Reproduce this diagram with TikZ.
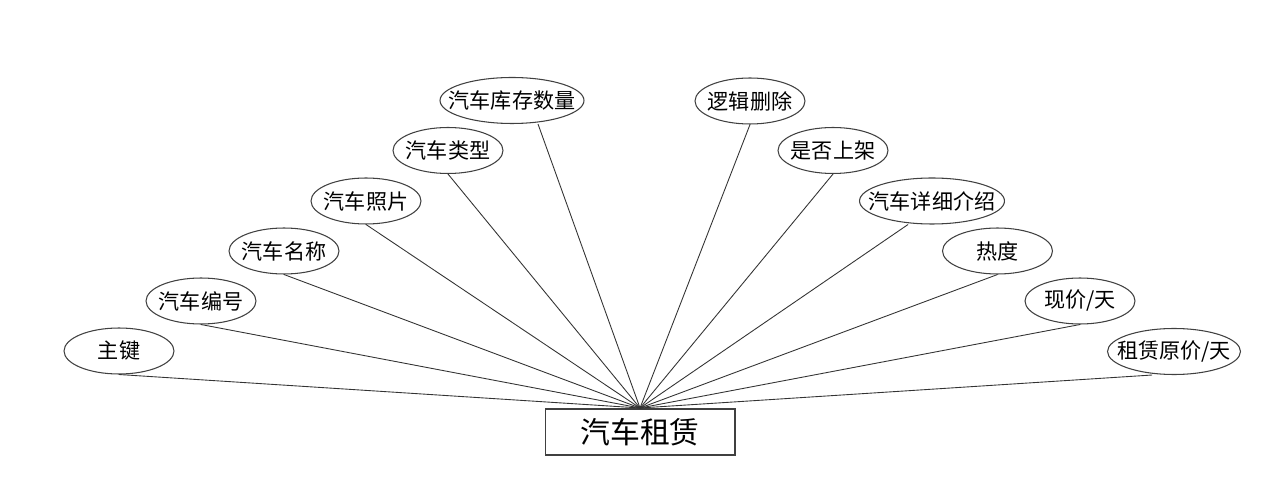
\documentclass[tikz,border=0pt]{standalone}
\usepackage{fontspec}
\setmainfont{Noto Sans CJK SC}
\usetikzlibrary{shapes.geometric}
\begin{document}
\begin{tikzpicture}[x=0.02cm,y=-0.02cm,
  attr/.style={ellipse,draw=black!75,line width=0.6pt,inner sep=0pt,
    minimum width=2.2cm,minimum height=0.92cm,font=\fontsize{12}{14}\selectfont},
  entity/.style={rectangle,draw=black!75,line width=0.6pt,inner sep=0pt,
    minimum width=3.8cm,minimum height=0.92cm,font=\fontsize{17}{20}\selectfont},
  conn/.style={draw=black!80,line width=0.5pt}]
\useasboundingbox (0,0) rectangle (1280,482);
\fill[white] (0,0) rectangle (1280,482);

\node[entity] (main) at (640,432) {汽车租赁};
\coordinate (hub) at (640,408);

\node[attr] (a1) at (119,351) {\makebox[0pt]{主键}};
\node[attr] (a2) at (201,301) {\makebox[0pt]{汽车编号}};
\node[attr] (a3) at (284,251) {\makebox[0pt]{汽车名称}};
\node[attr] (a4) at (366,201) {\makebox[0pt]{汽车照片}};
\node[attr] (a5) at (448,150.5) {\makebox[0pt]{汽车类型}};
\node[attr,minimum width=2.88cm] (a6) at (512,100.5) {\makebox[0pt]{汽车库存数量}};
\node[attr] (b1) at (750,101) {\makebox[0pt]{逻辑删除}};
\node[attr] (b2) at (833,150.5) {\makebox[0pt]{是否上架}};
\node[attr,minimum width=2.9cm] (b3) at (932,201) {\makebox[0pt]{汽车详细介绍}};
\node[attr] (b4) at (997.5,251) {\makebox[0pt]{热度}};
\node[attr] (b5) at (1080,301) {\makebox[0pt]{现价/天}};
\node[attr,minimum width=2.66cm] (b6) at (1174,351.5) {\makebox[0pt]{租赁原价/天}};

\draw[conn] (a1.south) -- (hub);
\draw[conn] (a2.south) -- (hub);
\draw[conn] (a3.south) -- (hub);
\draw[conn] (a4.south) -- (hub);
\draw[conn] (a5.south) -- (hub);
\draw[conn] ([xshift=0.52cm]a6.south) -- (hub);
\draw[conn] (b1.south) -- (hub);
\draw[conn] (b2.south) -- (hub);
\draw[conn] ([xshift=-0.48cm]b3.south) -- (hub);
\draw[conn] (b4.south) -- (hub);
\draw[conn] (b5.south) -- (hub);
\draw[conn] ([xshift=-0.44cm]b6.south) -- (hub);
\end{tikzpicture}
\end{document}
